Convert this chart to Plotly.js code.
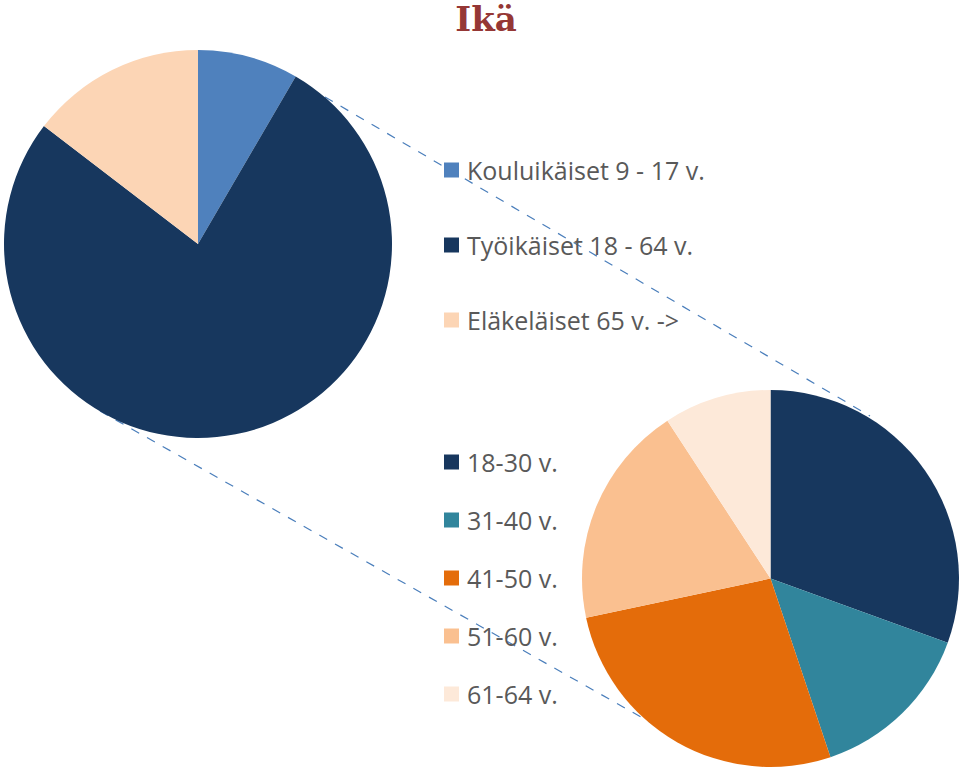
<!DOCTYPE html>
<html>
<head>
<meta charset="utf-8">
<script src="https://cdn.plot.ly/plotly-3.0.1.min.js"></script>
<style>html,body{margin:0;padding:0;background:#fff;}#chart{width:960px;height:772px;}</style>
</head>
<body>
<div id="chart"></div>
<script>
// Data
var ageLabels = ['Kouluikäiset 9 - 17 v.', 'Työikäiset 18 - 64 v.', 'Eläkeläiset 65 v. ->'];
var ageShares = [8.4, 77.0, 14.6];
var ageColors = ['#4F81BD', '#17375E', '#FCD5B5'];

var workLabels = ['18-30 v.', '31-40 v.', '41-50 v.', '51-60 v.', '61-64 v.'];
var workShares = [30.5, 14.3, 26.8, 19.1, 9.2];
var workColors = ['#17375E', '#31859C', '#E46C0A', '#FAC090', '#FDE9D9'];

var W = 960, H = 772;
function px(x) { return x / W; }
function py(y) { return 1 - y / H; }

var traces = [
  {
    type: 'pie', labels: ageLabels, values: ageShares,
    marker: { colors: ageColors, line: { width: 0 } },
    sort: false, direction: 'clockwise', rotation: 0,
    textinfo: 'none', hoverinfo: 'label+percent', showlegend: false,
    domain: { x: [px(4), px(392)], y: [py(438), py(50)] }
  },
  {
    type: 'pie', labels: workLabels, values: workShares,
    marker: { colors: workColors, line: { width: 0 } },
    sort: false, direction: 'clockwise', rotation: 0,
    textinfo: 'none', hoverinfo: 'label+percent', showlegend: false,
    domain: { x: [px(582), px(959)], y: [py(767), py(390)] }
  }
];

var shapes = [
  { type: 'line', xref: 'paper', yref: 'paper', x0: px(325), y0: py(97), x1: px(870), y1: py(416),
    line: { color: '#4A7EBB', width: 1.2, dash: 'dash' }, layer: 'below' },
  { type: 'line', xref: 'paper', yref: 'paper', x0: px(100), y0: py(411), x1: px(678), y1: py(738),
    line: { color: '#4A7EBB', width: 1.2, dash: 'dash' }, layer: 'below' }
];
var annotations = [];

function addLegend(labels, colors, yStart, step) {
  for (var i = 0; i < labels.length; i++) {
    var yc = yStart + i * step;
    shapes.push({ type: 'rect', xref: 'paper', yref: 'paper',
      x0: px(444), x1: px(459), y0: py(yc + 7.5), y1: py(yc - 7.5),
      fillcolor: colors[i], line: { width: 0 } });
    annotations.push({ xref: 'paper', yref: 'paper', x: px(465), y: py(yc),
      xanchor: 'left', yanchor: 'middle', showarrow: false, text: labels[i],
      font: { family: 'Open Sans, Noto Sans, sans-serif', size: 25, color: '#595959' } });
  }
}
addLegend(ageLabels, ageColors, 170, 75);
addLegend(workLabels, workColors, 462, 58);

var layout = {
  width: W, height: H,
  margin: { l: 0, r: 0, t: 0, b: 0 },
  paper_bgcolor: '#ffffff',
  title: { text: '<b>Ikä</b>', x: 486 / W, xanchor: 'center', yref: 'container', y: 1 - 19 / H, yanchor: 'middle',
    font: { family: 'DejaVu Serif, serif', size: 34, color: '#953735' } },
  showlegend: false,
  shapes: shapes,
  annotations: annotations
};

Plotly.newPlot('chart', traces, layout, { displayModeBar: false, staticPlot: true });
</script>
</body>
</html>
